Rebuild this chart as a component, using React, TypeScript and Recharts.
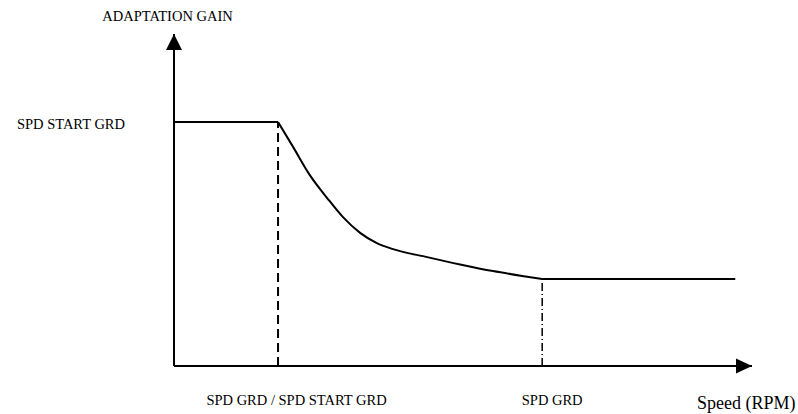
import React from 'react';
import { ComposedChart, Line, XAxis, YAxis, ReferenceLine, ReferenceDot } from 'recharts';

// ---- data ----
const xTickValues = [18.0, 63.7];
const xTickLabels = ['SPD GRD / SPD START GRD', 'SPD GRD'];
const yTickValues = [73.5];
const yTickLabels = ['SPD START GRD'];
const yAxisTitle = 'ADAPTATION GAIN';
const xAxisTitle = 'Speed (RPM)';

const highSpeed = [0, 18.0];
const highGain = [73.5, 73.5];
const curveSpeed = [18.0, 20.6, 23.5, 26.5, 29.2, 32.2, 35.1, 37.9, 43.8, 49.5, 55.2, 61.1, 63.7];
const curveGain = [73.5, 66.0, 57.5, 50.6, 44.9, 40.1, 37.0, 35.2, 32.8, 30.6, 28.6, 26.9, 26.2];
const lowSpeed = [63.7, 97.1];
const lowGain = [26.2, 26.2];

const highData = highSpeed.map((s, i) => ({ speed: s, gain: highGain[i] }));
const curveData = curveSpeed.map((s, i) => ({ speed: s, gain: curveGain[i] }));
const lowData = lowSpeed.map((s, i) => ({ speed: s, gain: lowGain[i] }));

// ---- styles ----
const FONT = 'Liberation Serif, Tinos, Times New Roman, DejaVu Serif, serif';
const xTickDx = [18.5, 10];
const textStyle = { fontFamily: FONT };

const XTick = (props: any) => {
  const { x, y, index } = props;
  return (
    <text x={x + (xTickDx[index] ?? 0)} y={y} dy={31} textAnchor="middle" style={textStyle} fontSize={14.5} fill="#000">
      {xTickLabels[index]}
    </text>
  );
};

const YTick = (props: any) => {
  const { x, y, index } = props;
  return (
    <text x={x - 41} y={y} dy={7} textAnchor="end" style={textStyle} fontSize={14.5} fill="#000">
      {yTickLabels[index]}
    </text>
  );
};

const UpArrow = (p: any) => (
  <polygon points={`${p.cx},${p.cy} ${p.cx - 8},${p.cy + 16} ${p.cx + 8},${p.cy + 16}`} fill="#000" />
);
const RightArrow = (p: any) => (
  <polygon points={`${p.cx},${p.cy} ${p.cx - 16},${p.cy - 7.5} ${p.cx - 16},${p.cy + 7.5}`} fill="#000" />
);

const YTitle = (props: any) => {
  const vb = props.viewBox;
  return (
    <text x={vb.x + vb.width - 6.5} y={vb.y - 13} textAnchor="middle" style={textStyle} fontSize={14.5} fill="#000">
      {yAxisTitle}
    </text>
  );
};
const XTitle = (props: any) => {
  const vb = props.viewBox;
  return (
    <text x={vb.x + vb.width - 55} y={vb.y + 43} textAnchor="start" style={textStyle} fontSize={18} fill="#000">
      {xAxisTitle}
    </text>
  );
};

export default function App() {
  return (
    <div style={{ position: 'absolute', left: 0, top: 0, width: 798, height: 414, background: '#fff', fontFamily: FONT }}>
      <ComposedChart width={798} height={414} margin={{ top: 34, right: 46, bottom: 18, left: 114 }}>
        <XAxis
          dataKey="speed"
          type="number"
          domain={[0, 100]}
          allowDataOverflow
          ticks={xTickValues}
          tick={<XTick />}
          tickLine={false}
          axisLine={{ stroke: '#000', strokeWidth: 2 }}
          height={30}
          label={<XTitle />}
        />
        <YAxis
          dataKey="gain"
          type="number"
          domain={[0, 100]}
          allowDataOverflow
          ticks={yTickValues}
          tick={<YTick />}
          tickLine={false}
          axisLine={{ stroke: '#000', strokeWidth: 2 }}
          width={60}
          label={<YTitle />}
        />
        <ReferenceLine
          segment={[{ x: xTickValues[0], y: 0 }, { x: xTickValues[0], y: highGain[1] }]}
          stroke="#000"
          strokeWidth={2}
          strokeDasharray="9 5"
        />
        <ReferenceLine
          segment={[{ x: xTickValues[1], y: 0 }, { x: xTickValues[1], y: lowGain[0] }]}
          stroke="#000"
          strokeWidth={1.5}
          strokeDasharray="8 3 1 3"
        />
        <Line data={highData} dataKey="gain" type="linear" stroke="#000" strokeWidth={2} dot={false} isAnimationActive={false} />
        <Line data={curveData} dataKey="gain" type="monotone" stroke="#000" strokeWidth={2} dot={false} isAnimationActive={false} />
        <Line data={lowData} dataKey="gain" type="linear" stroke="#000" strokeWidth={2} dot={false} isAnimationActive={false} />
        <ReferenceDot x={0} y={100} r={0} shape={<UpArrow />} />
        <ReferenceDot x={100} y={0} r={0} shape={<RightArrow />} />
      </ComposedChart>
    </div>
  );
}
